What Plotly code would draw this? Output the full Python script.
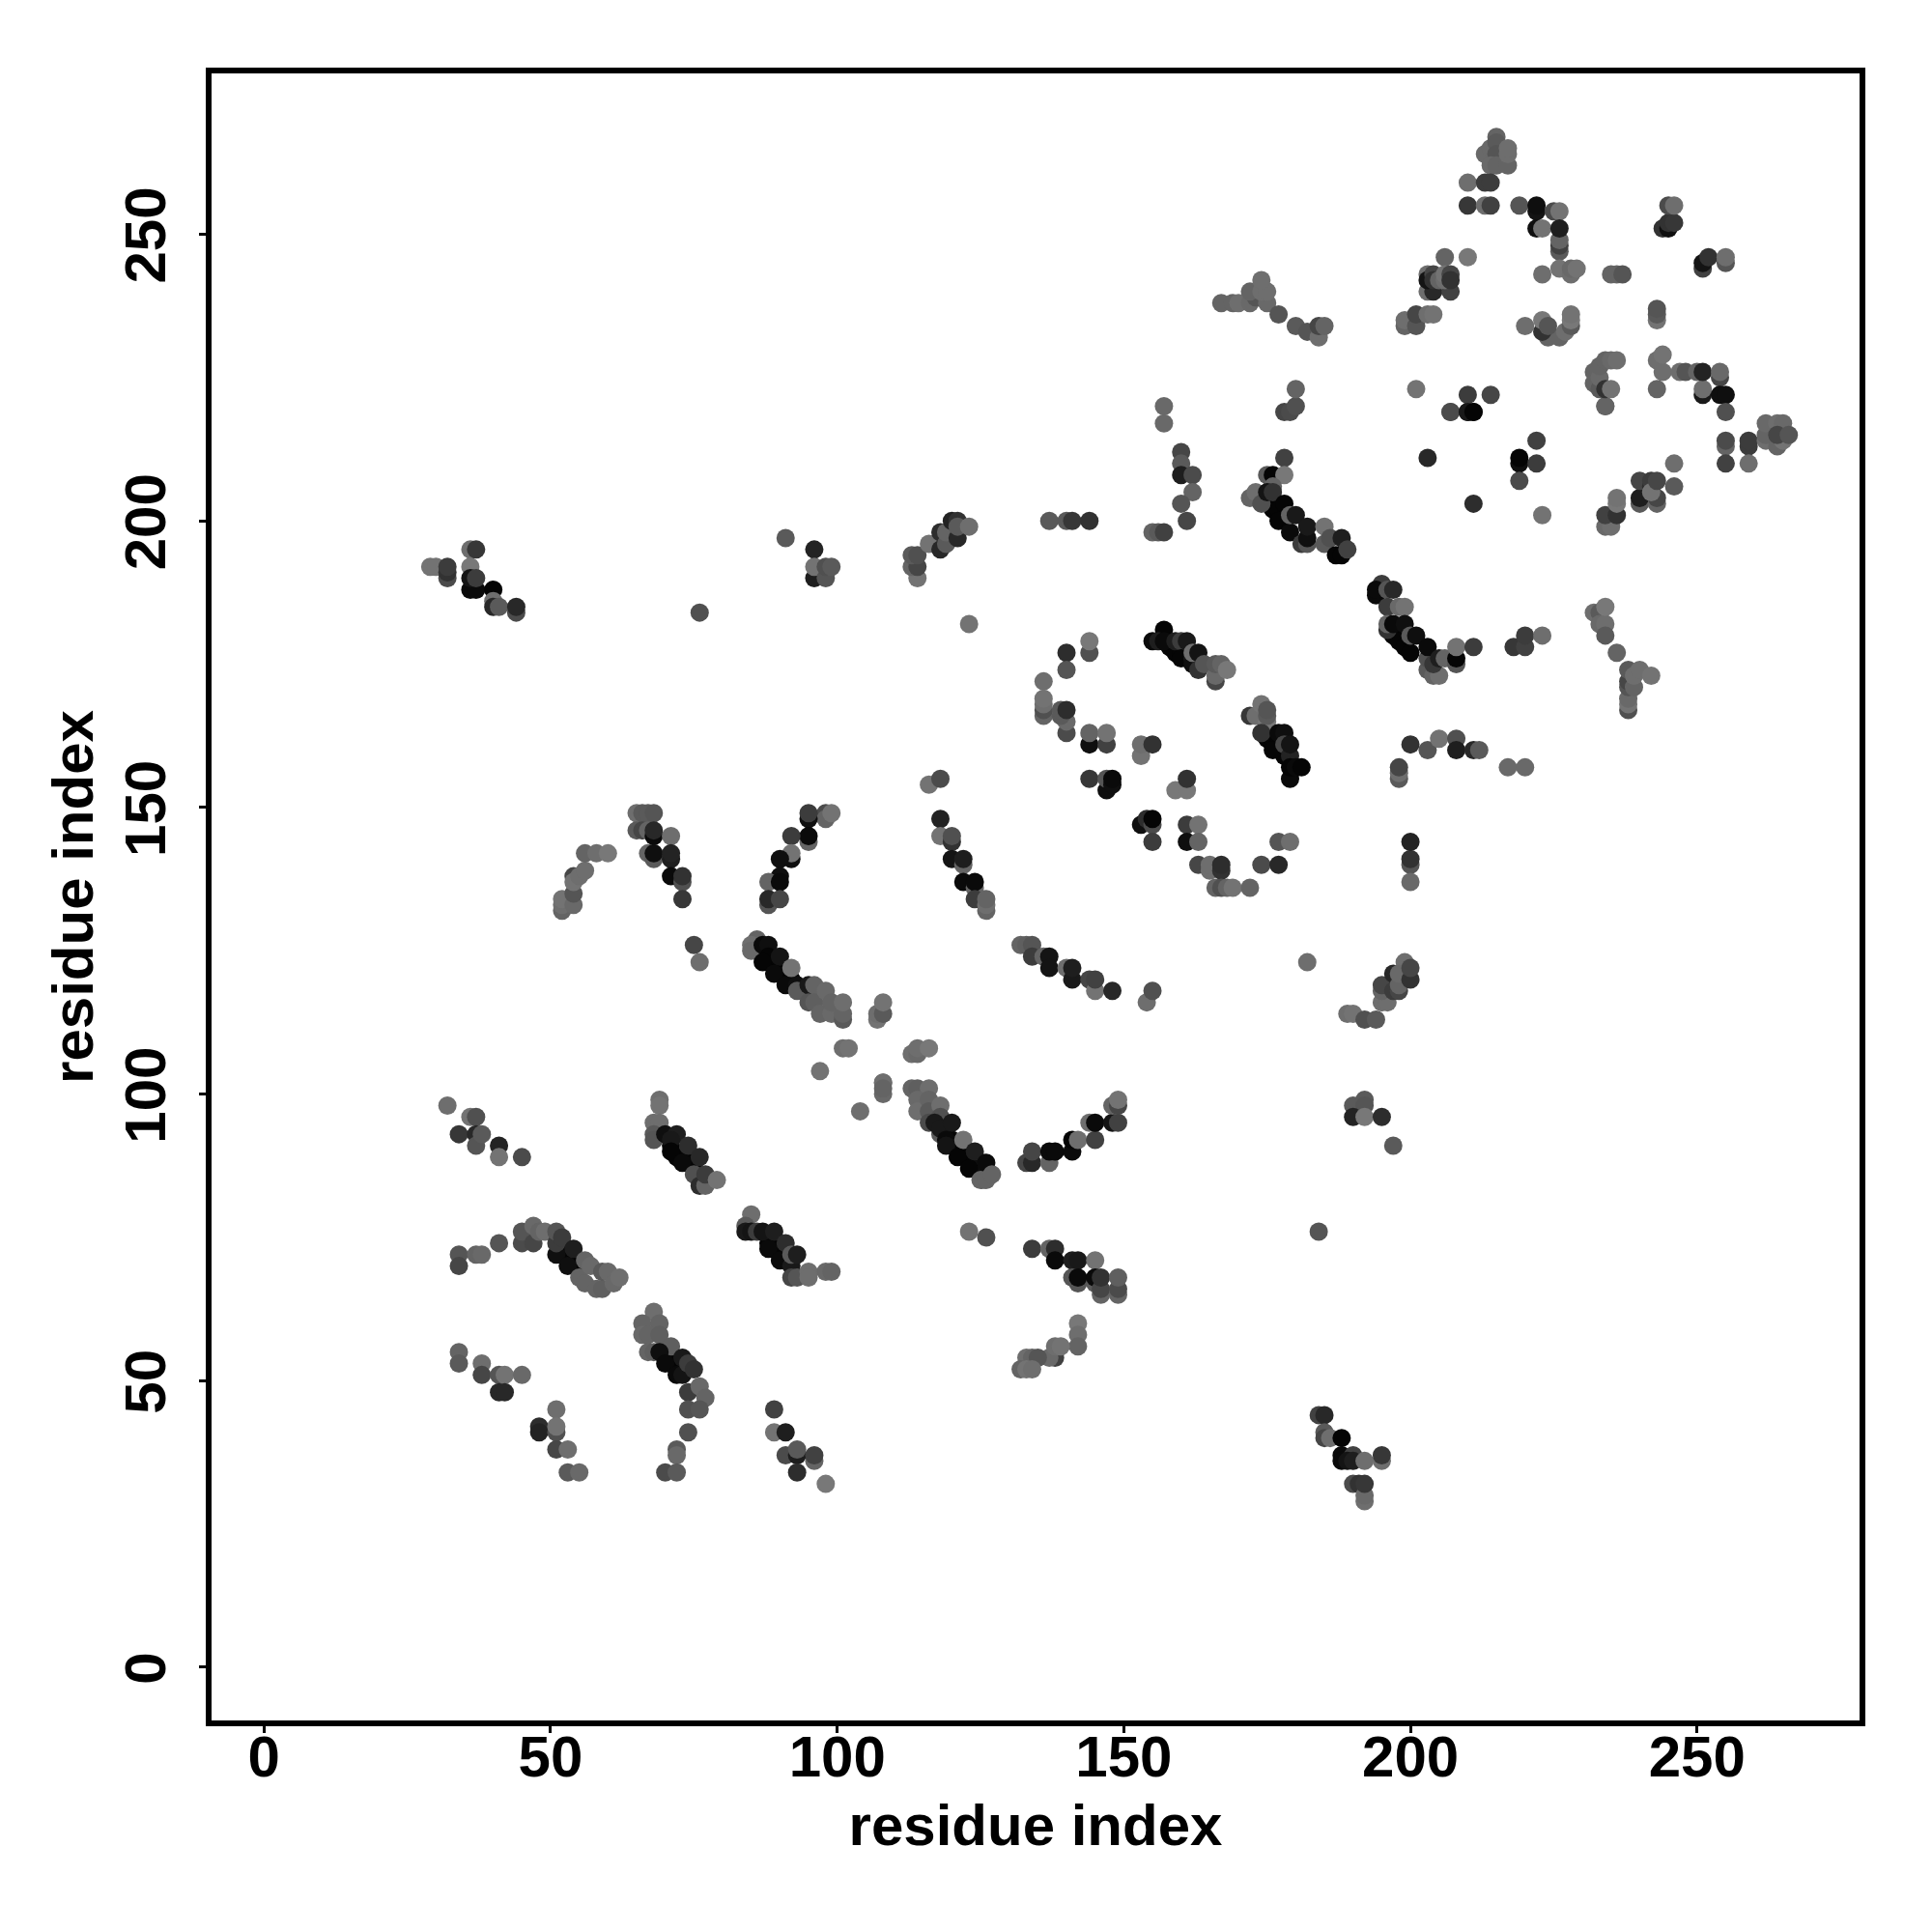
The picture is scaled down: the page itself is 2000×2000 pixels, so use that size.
import plotly.graph_objects as go

# (residue i, residue j, grey level), grouped by contact cluster
c_a = [(32,98,110),(34,93,55),(36,96,115),(37,96,80),(37,93,40),(37,91,85),(38,93,90),(41,91,35),(41,89,115),(45,89,75)]
c_b = [(71,91,5),(72,89,5),(73,89,5),(74,88,5),(75,87,5),(69,99,110),(69,98,115),(68,95,110),(69,95,110),(68,93,90),(68,92,85),(70,93,15),(72,93,30),(71,92,25),(71,90,5),(74,91,45),(73,88,10),(76,89,40),(75,86,80),(76,84,45),(77,84,100),(77,86,60),(79,85,115)]
c_c = [(52,73,5),(53,72,5),(54,71,5),(55,70,5),(34,72,85),(34,70,70),(37,72,100),(38,72,105),(41,74,85),(45,74,75),(45,76,85),(47,74,70),(47,77,105),(48,76,100),(49,76,110),(51,72,15),(51,74,60),(51,76,85),(52,75,60),(53,70,15),(54,73,30),(55,68,100),(56,67,100),(56,71,100),(57,70,105),(58,66,100),(59,66,95),(59,69,90),(60,69,105),(61,67,105),(62,68,110)]
c_d = [(88,74,5),(89,73,5),(90,72,5),(91,71,5),(85,79,110),(84,77,90),(84,76,25),(85,76,20),(86,76,60),(87,76,20),(89,76,30),(88,73,10),(91,74,45),(90,71,10),(92,70,25),(92,72,90),(93,72,30),(92,68,70),(93,68,85),(95,69,110),(95,68,110),(98,69,105),(99,69,100)]
c_e = [(70,54,5),(71,53,5),(72,52,5),(68,62,110),(66,60,100),(69,60,100),(66,58,105),(67,58,100),(69,58,95),(67,55,100),(68,55,95),(71,56,95),(69,55,15),(70,53,10),(72,51,10),(73,51,20),(73,54,25),(74,53,60),(75,52,50),(74,48,60),(76,49,105),(77,47,100),(74,45,80),(76,45,85),(74,41,80),(72,38,90),(72,37,105),(70,34,75),(72,34,90)]
c_f = [(34,55,100),(34,53,90),(38,53,110),(38,51,70),(41,51,85),(42,51,115),(45,51,105),(41,48,40),(42,48,40),(51,45,110),(48,42,45),(48,41,35),(51,41,80),(51,42,115),(51,38,70),(53,38,110),(53,34,90),(55,34,105)]
c_g = [(89,45,65),(89,41,115),(91,41,30),(91,37,75),(93,37,30),(93,38,90),(96,36,100),(96,37,65),(93,34,45),(98,32,120)]
c_h = [(120,92,5),(121,91,5),(122,90,5),(123,89,5),(124,88,5),(113,107,110),(114,107,105),(114,108,110),(116,108,120),(108,102,110),(108,100,105),(113,101,100),(114,101,95),(116,101,110),(114,99,105),(114,97,110),(116,99,100),(116,97,90),(116,95,75),(118,98,110),(118,96,80),(118,93,90),(117,95,25),(118,94,25),(125,87,15),(120,95,25),(119,92,10),(119,91,20),(122,92,115),(121,89,5),(124,90,30),(123,87,5),(126,88,10),(125,85,100),(126,85,100),(127,86,100)]
c_i = [(133,88,70),(134,88,40),(134,90,70),(137,88,100),(137,90,10),(138,90,10),(141,90,10),(141,92,5),(142,92,110),(145,92,65),(144,95,110),(145,95,10),(148,95,20),(149,95,65),(148,98,100),(149,98,70),(149,99,115),(123,76,115),(126,75,80)]
c_j = [(134,73,60),(137,73,100),(138,73,45),(138,71,10),(141,71,30),(142,71,25),(145,71,115),(141,68,85),(142,67,85),(142,68,10),(145,67,90),(145,68,10),(146,65,100),(146,66,70),(146,68,50),(149,65,100),(149,66,75),(149,68,95)]
c_k = [(142,60,120),(142,58,110),(142,56,100),(138,54,65),(137,54,105),(138,56,110),(139,56,115),(133,54,110),(134,54,100),(135,54,85),(132,52,100),(133,52,115),(134,52,110)]
c_l = [(190,98,90),(192,99,90),(192,98,85),(190,96,35),(192,96,120),(195,96,45),(197,91,90),(184,76,85)]
c_m = [(184,44,65),(185,44,40),(185,41,90),(185,40,70),(186,40,110),(188,40,5),(188,37,10),(188,36,10),(190,37,65),(189,36,20),(190,36,30),(192,36,110),(195,36,110),(195,37,55),(190,32,75),(191,32,50),(192,29,110),(192,30,105),(192,32,55)]
c_n = [(52,132,100),(52,133,110),(52,134,115),(54,133,105),(54,135,85),(54,138,70),(54,137,115),(55,138,110),(56,139,110),(56,142,100),(58,142,110),(60,142,120)]
c_o = [(65,149,110),(66,149,90),(67,149,90),(68,149,85),(65,146,90),(66,146,70),(67,146,100),(68,145,10),(68,146,40),(71,145,110),(67,142,100),(68,141,90),(68,142,15),(71,141,30),(71,142,35),(71,138,10),(73,137,80),(73,138,50),(73,134,55)]
c_p = [(98,149,75),(98,148,100),(99,149,115),(95,148,15),(95,149,60),(95,144,100),(95,145,10),(92,145,60),(92,141,15),(92,142,115),(90,141,15),(90,138,15),(88,137,100),(90,137,10),(88,133,85),(88,134,40),(90,134,70),(75,126,70),(76,123,110)]
c_q = [(89,123,5),(90,122,5),(91,121,5),(92,120,5),(86,127,100),(85,126,110),(85,125,105),(87,126,10),(88,126,15),(88,124,5),(87,123,5),(90,124,20),(89,121,10),(91,119,10),(93,119,15),(92,122,115),(93,118,90),(95,119,25),(96,119,100),(95,116,85),(96,116,95),(98,118,105),(97,114,100),(99,114,105),(99,116,100),(101,113,90),(101,114,100),(101,116,110),(107,113,115),(107,114,110),(108,114,90),(108,116,115),(101,108,110),(102,108,115),(97,104,115),(108,102,110),(108,101,100),(104,97,110)]
c_r = [(116,154,115),(118,155,75),(118,148,35),(118,145,115),(120,144,50),(120,145,80),(120,141,20),(122,140,100),(122,141,30),(122,137,10),(124,136,100),(124,137,10),(124,134,60),(126,132,100),(126,133,110),(126,134,100)]
c_s = [(123,182,115),(144,177,80),(144,179,120),(140,177,45),(140,174,85),(136,172,110),(136,166,100),(136,167,80),(136,168,110),(136,169,115),(140,163,75),(140,165,105),(139,166,90),(139,167,90),(140,167,45),(144,161,15),(147,161,65),(144,163,100),(147,163,115),(144,155,55),(147,153,15),(147,155,85),(148,154,15),(148,155,10),(153,159,115),(153,161,110),(155,161,50),(159,153,120),(161,153,120),(161,155,50),(153,147,15),(154,148,45),(155,147,75),(155,148,5),(155,144,60),(161,147,60),(163,147,115),(161,144,15),(163,144,100),(163,140,70),(165,139,110),(165,140,110),(167,139,50),(167,140,45),(166,136,100),(167,136,80),(168,136,100),(169,136,115),(172,136,100),(174,140,75),(177,140,40),(177,144,85),(179,144,110)]
c_t = [(158,178,5),(159,177,5),(160,177,5),(161,176,5),(157,181,5),(155,179,10),(156,179,30),(157,179,10),(159,179,30),(160,179,60),(161,179,25),(160,176,5),(162,176,25),(162,175,15),(162,177,110),(163,177,20),(163,174,50),(164,175,85),(166,172,70),(166,173,105),(166,175,90),(167,175,100),(168,174,120)]
c_u = [(175,162,5),(176,162,5),(177,161,5),(178,159,5),(172,166,55),(173,166,110),(174,168,115),(175,165,120),(175,166,90),(175,167,85),(174,163,50),(176,160,5),(177,163,10),(178,163,15),(178,161,70),(179,159,35),(179,161,20),(179,155,10),(179,157,5),(180,157,10),(181,157,5)]
c_v = [(198,155,90),(198,156,110),(198,157,70),(200,161,50),(203,160,85),(205,162,115),(208,162,80),(208,160,30),(211,160,40),(212,160,90),(217,157,105),(220,157,105),(200,140,85),(200,141,50),(200,144,35),(200,137,105),(182,123,110)]
c_w = [(132,126,100),(133,126,95),(134,126,85),(134,124,60),(136,124,100),(137,124,20),(137,122,20),(140,122,110),(141,120,25),(141,122,30),(144,120,70),(145,118,115),(145,120,65),(148,118,40),(154,116,110),(155,118,80)]
c_x = [(199,123,110),(195,116,110),(196,116,110),(195,118,100),(195,119,70),(197,118,60),(197,121,40),(198,118,70),(198,119,100),(198,121,105),(200,120,50),(200,122,70),(189,114,110),(190,114,115),(192,113,80),(194,113,90)]
c_y = [(175,203,5),(176,202,5),(177,202,5),(178,200,5),(178,219,70),(179,219,75),(180,220,80),(180,223,100),(207,219,85),(210,219,15),(211,219,5),(234,220,110),(178,211,65),(175,208,90),(176,208,5),(178,208,120),(172,204,100),(173,205,110),(174,203,80),(176,206,100),(175,205,20),(176,205,50),(178,203,5),(177,200,5),(179,198,10),(179,201,100),(180,201,25),(181,196,60),(182,196,85),(182,197,15),(182,199,25),(185,196,90),(185,199,115),(186,197,80),(187,194,5),(188,194,5),(188,197,30),(189,195,65)]
c_z = [(197,180,5),(198,179,5),(199,178,5),(200,177,5),(195,189,60),(194,187,10),(194,188,10),(196,188,85),(197,188,40),(196,185,60),(198,185,105),(199,185,115),(196,181,50),(196,182,100),(197,182,10),(199,182,15),(200,180,90),(201,180,15),(203,174,90),(203,176,80),(204,173,100),(205,173,110),(204,175,55),(203,178,10),(205,176,30),(206,176,100),(208,175,85),(208,176,5),(208,178,115),(211,178,60)]
c_aa = [(218,178,55),(220,178,65),(220,180,60),(223,180,110),(222,214,65),(219,210,15),(219,211,5),(222,210,60),(219,207,75),(223,201,115),(203,211,40),(211,203,45),(246,210,110),(246,206,90),(240,203,90),(240,204,30),(240,207,70),(242,206,45),(242,207,60),(243,203,100),(243,204,70),(242,205,115),(243,207,70),(234,199,105),(235,199,110),(234,201,65),(236,201,50),(236,203,120),(236,204,115)]
c_ab = [(232,184,110),(233,184,90),(233,182,105),(234,182,110),(234,180,90),(234,185,120),(236,177,100),(238,167,80),(238,168,115),(238,169,105),(238,171,85),(238,172,70),(239,171,100),(238,174,90),(239,173,110),(240,174,110),(242,173,115)]
c_ac = [(213,264,105),(214,265,105),(215,267,100),(215,266,90),(215,264,85),(214,262,105),(215,262,100),(217,262,100),(217,264,110),(217,265,110),(210,259,110),(213,259,60),(214,259,60),(210,255,55),(213,255,110),(214,255,65),(219,255,85),(222,254,20),(222,255,15),(225,254,75),(226,254,115),(222,251,15),(223,251,115),(226,247,90),(226,248,65),(226,249,100),(226,251,30),(223,243,110),(226,244,115),(228,243,110),(228,244,105),(229,244,115),(235,243,100),(236,243,100),(237,243,85),(244,251,50),(245,251,15),(245,252,50),(246,252,55),(245,255,75),(246,255,110),(251,244,65),(251,245,20),(252,246,50),(255,245,85),(255,246,110)]
c_ad = [(206,246,100),(210,246,120),(203,240,110),(204,240,40),(207,240,65),(203,243,110),(203,242,20),(204,243,70),(204,242,50),(205,242,100),(206,242,110),(206,243,115),(207,243,70),(207,242,50),(199,234,100),(199,235,110),(201,234,85),(201,236,70),(203,236,110),(204,236,115),(220,234,110),(224,232,100),(226,232,100),(223,233,50),(223,235,120),(224,234,85),(227,233,110),(228,234,90),(228,235,120),(228,236,115),(243,235,115),(243,236,90),(243,237,85)]
c_ae = [(234,220,100),(232,224,100),(232,226,100),(233,223,90),(233,225,105),(233,227,100),(234,228,100),(235,228,105),(236,228,110),(234,223,50),(235,223,115),(243,223,100),(243,228,110),(244,226,110),(244,229,115),(247,226,110),(248,226,85),(250,226,100),(251,222,25),(251,223,110),(251,226,35),(254,225,70),(254,226,105),(254,222,15),(255,222,15),(255,219,80),(255,213,100),(255,214,75),(255,210,65),(259,213,60),(259,214,60),(259,210,110)]
c_af = [(262,214,110),(262,215,100),(262,217,105),(264,217,110),(265,217,105),(264,213,100),(265,214,115),(264,215,70),(266,215,85),(201,223,115),(210,222,60),(214,222,70),(207,219,75),(210,219,25),(211,219,5)]
c_ag = [(29,192,115),(30,192,115),(32,190,75),(32,191,50),(32,192,60),(36,195,110),(37,195,55),(36,192,120),(36,188,10),(37,188,10),(36,190,20),(37,190,60),(40,188,5),(40,186,110),(40,185,40),(41,185,90),(44,184,75),(44,185,40),(76,184,80),(91,197,90),(96,195,35),(96,190,30),(96,192,115),(98,190,85),(98,192,80),(99,192,90)]
c_ah = [(114,190,115),(113,192,100),(114,192,70),(113,194,90),(114,194,80),(116,196,115),(118,195,40),(118,198,45),(119,196,90),(119,198,100),(121,197,40),(120,200,35),(121,200,50),(121,199,90),(123,199,110),(137,200,90),(140,200,90),(141,200,55),(144,200,50)]
c_ai = [(157,220,105),(157,217,105),(160,212,70),(160,210,90),(160,208,30),(162,208,75),(162,205,100),(160,203,85),(161,200,70),(155,198,100),(156,198,90),(157,198,65),(167,238,100),(169,238,100),(170,238,110),(172,238,105),(173,239,85),(175,238,105),(172,240,100),(174,240,110),(175,240,110),(174,242,110),(177,236,85),(180,234,90),(182,233,85),(184,232,110),(184,234,70),(185,234,100)]

clusters = [c_a,c_b,c_c,c_d,c_e,c_f,c_g,c_h,c_i,c_j,c_k,c_l,c_m,c_n,c_o,c_p,c_q,c_r,c_s,c_t,c_u,c_v,c_w,c_x,c_y,c_z,c_aa,c_ab,c_ac,c_ad,c_ae,c_af,c_ag,c_ah,c_ai]
points = [p for c in clusters for p in c]

tick_values = [0, 50, 100, 150, 200, 250]
axis_label = "residue index"

fig = go.Figure(go.Scatter(
    x=[p[0] for p in points], y=[p[1] for p in points], mode="markers",
    marker=dict(size=19, color=[p[2] for p in points], cmin=0, cmax=255,
                colorscale=[[0, "#000000"], [1, "#ffffff"]], line=dict(width=0)),
    hoverinfo="skip", showlegend=False))

font = dict(family="Liberation Sans", size=60, color="#000000", weight="bold")
axis = dict(tickmode="array", tickvals=tick_values, ticks="outside", ticklen=7, tickwidth=3,
            tickcolor="#000000", showgrid=False, zeroline=False, showline=True, linewidth=6,
            linecolor="#000000", mirror=True, tickfont=font)

fig.update_layout(width=1984, height=1984, autosize=False,
                  margin=dict(l=211, r=67, t=68, b=211),
                  paper_bgcolor="#ffffff", plot_bgcolor="#ffffff",
                  font=dict(family="Liberation Sans"))
fig.update_xaxes(**axis, range=[-9.15, 278.35], ticklabelstandoff=-27,
                 title=dict(text=axis_label, font=font, standoff=19))
fig.update_yaxes(**axis, range=[-9.27, 278.06], tickangle=-90, ticklabelstandoff=11, ticklabelshift=10,
                 title=dict(text=axis_label, font=font, standoff=3))
fig.write_html("out.html")
